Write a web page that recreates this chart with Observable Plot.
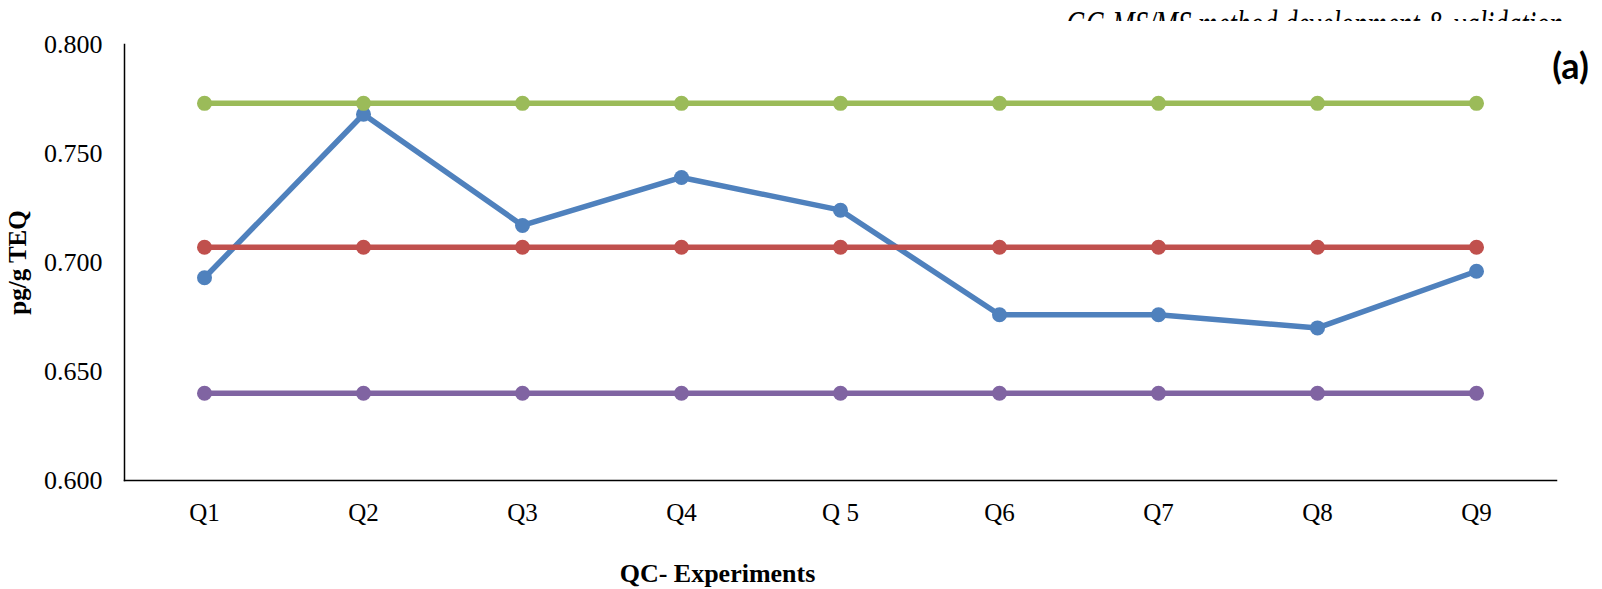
<!DOCTYPE html>
<html>
<head>
<meta charset="utf-8">
<script src="https://cdn.jsdelivr.net/npm/d3@7"></script>
<script src="https://cdn.jsdelivr.net/npm/@observablehq/plot@0.6"></script>
<style>
  html, body { margin: 0; padding: 0; background: #fff; }
  #wrap { position: relative; width: 1602px; height: 589px; overflow: hidden; }
  /* running header: only its upper strip shows above the chart area */
  #header { position: absolute; left: 1060px; top: 0px; width: 542px; height: 21px; overflow: hidden; }
</style>
</head>
<body>
<div id="wrap">
  <div id="chart"></div>
  <div id="header">
    <svg width="542" height="21">
      <text x="6" y="38" textLength="497" lengthAdjust="spacingAndGlyphs"
        font-family="Liberation Serif" font-style="italic" font-size="40" fill="#000">GC-MS/MS method development &amp; validation</text>
    </svg>
  </div>
</div>
<script>
// QC experiments and the measured TEQ of each run
const experiments = ["Q1", "Q2", "Q3", "Q4", "Q 5", "Q6", "Q7", "Q8", "Q9"];
const measured   = [0.693, 0.768, 0.717, 0.739, 0.724, 0.676, 0.676, 0.670, 0.696];
// control chart reference lines: mean, upper and lower limits
const meanLine   = [0.707, 0.707, 0.707, 0.707, 0.707, 0.707, 0.707, 0.707, 0.707];
const upperLimit = [0.773, 0.773, 0.773, 0.773, 0.773, 0.773, 0.773, 0.773, 0.773];
const lowerLimit = [0.640, 0.640, 0.640, 0.640, 0.640, 0.640, 0.640, 0.640, 0.640];
const yTicks = [0.600, 0.650, 0.700, 0.750, 0.800];

const seriesList = [
  {name: "Measured", values: measured,   color: "#4F81BD"},
  {name: "Mean",     values: meanLine,   color: "#C0504D"},
  {name: "UCL",      values: upperLimit, color: "#9BBB59"},
  {name: "LCL",      values: lowerLimit, color: "#8064A2"}
];

const rows = seriesList.flatMap(s =>
  experiments.map((q, i) => ({series: s.name, q, v: s.values[i], color: s.color}))
);

const marks = [];
for (const s of seriesList) {
  const d = rows.filter(r => r.series === s.name);
  marks.push(Plot.line(d, {x: "q", y: "v", stroke: s.color, strokeWidth: 5.5}));
  marks.push(Plot.dot(d, {x: "q", y: "v", fill: s.color, r: 7.5, stroke: "none"}));
}

const chart = Plot.plot({
  width: 1602,
  height: 589,
  marginLeft: 124,
  marginRight: 46,
  marginTop: 44,
  marginBottom: 109,
  style: {fontFamily: "Liberation Serif", fontSize: "26px", color: "#000", background: "#fff"},
  x: {domain: experiments, type: "point", padding: 0.5, label: null},
  y: {domain: [0.6, 0.8], label: null},
  marks: [
    Plot.axisY({ticks: yTicks, tickFormat: d3.format(".3f"), tickSize: 0, tickPadding: 22, label: null, fontSize: 26}),
    Plot.axisX({tickSize: 0, tickPadding: 23, label: null, fontSize: 25}),
    Plot.frame({anchor: "left", stroke: "#000", strokeWidth: 1.5}),
    Plot.frame({anchor: "bottom", stroke: "#000", strokeWidth: 1.5}),
    ...marks,
    Plot.text(["pg/g TEQ"], {frameAnchor: "left", dx: -107, rotate: -90, textAnchor: "middle", lineAnchor: "middle", fontWeight: "bold", fontSize: 25, fill: "#000"}),
    Plot.text(["QC- Experiments"], {frameAnchor: "bottom", dx: -123, dy: 93, textAnchor: "middle", lineAnchor: "middle", fontWeight: "bold", fontSize: 26, fill: "#000"}),
    Plot.text(["(a)"], {frameAnchor: "top-right", dx: 14, dy: 23, textAnchor: "middle", lineAnchor: "middle", fontWeight: "bold", fontSize: 36, fontFamily: "Lato", fill: "#000"})
  ]
});
document.getElementById("chart").appendChild(chart);
</script>
</body>
</html>
